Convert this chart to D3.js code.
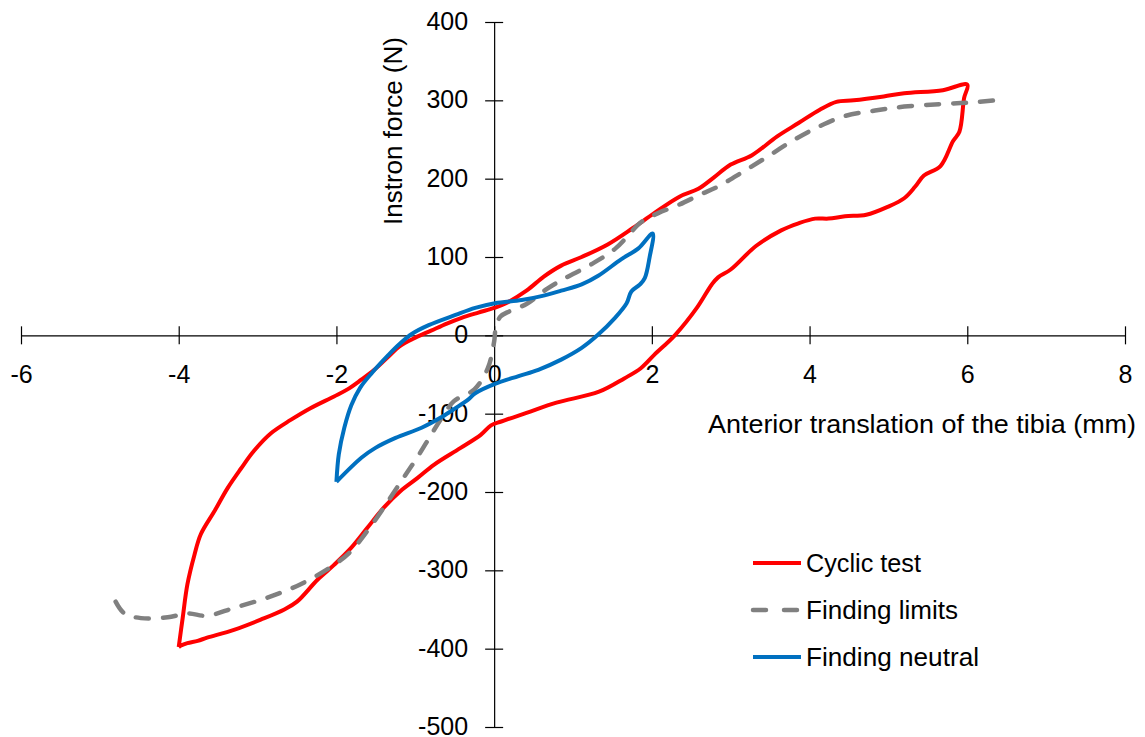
<!DOCTYPE html>
<html>
<head>
<meta charset="utf-8">
<script src="https://cdn.jsdelivr.net/npm/d3@7"></script>
<style>
  body { margin: 0; background: #fff; }
  text { font-family: "Liberation Sans", Arial, sans-serif; fill: #000; }
</style>
</head>
<body>
<script>
var W = 1145, H = 737;

var xTicks = [-6, -4, -2, 0, 2, 4, 6, 8];
var yTicks = [-500, -400, -300, -200, -100, 0, 100, 200, 300, 400];

// cyclic test loop (mm, N)
var cyclicTest = [
  [-4.0,-398],[-3.95,-361],[-3.89,-318],[-3.8,-280],[-3.72,-254],[-3.55,-225],[-3.38,-195],
  [-3.21,-170],[-3.05,-148],[-2.83,-125],[-2.58,-108],[-2.33,-93],[-2.03,-78],[-1.86,-69],
  [-1.69,-57],[-1.52,-44],[-1.35,-28],[-1.2,-14],[-1.0,-3],[-0.8,6],[-0.6,15],[-0.42,22],
  [-0.2,29],[0,35],[0.15,41],[0.41,57],[0.63,75],[0.85,89],[1.11,100],[1.44,116],[1.76,137],
  [2.03,156],[2.35,177],[2.59,187],[2.78,201],[3.0,218],[3.27,230],[3.59,254],[3.86,271],
  [4.13,288],[4.34,298],[4.56,300],[4.94,305],[5.2,309],[5.69,313],[6.0,320],
  [5.96,303],[5.9,260],[5.82,248],[5.66,216],[5.45,204],[5.34,190],[5.2,175],[4.99,164],
  [4.72,154],[4.45,152],[4.24,149],[4.07,149],[3.86,143],[3.64,134],[3.32,114],[3.0,84],
  [2.84,74],[2.76,65],[2.57,35],[2.3,1],[2.03,-25],[1.86,-42],[1.65,-55],[1.33,-72],
  [0.79,-86],[0.41,-99],[0.09,-110],[-0.04,-115],[-0.17,-127],[-0.43,-144],[-0.76,-165],
  [-0.97,-182],[-1.19,-199],[-1.4,-220],[-1.61,-246],[-1.82,-272],[-2.03,-293],[-2.24,-312],
  [-2.5,-340],[-2.66,-350],[-2.96,-363],[-3.3,-376],[-3.64,-386],[-3.76,-390],[-3.89,-393],
  [-3.97,-396],[-4.0,-398]
];

var findingLimits = [
  [-4.8,-340],[-4.69,-355],[-4.48,-361],[-4.14,-360],[-3.89,-355],[-3.64,-358],[-3.3,-348],
  [-2.88,-335],[-2.46,-318],[-2.03,-293],[-1.82,-276],[-1.61,-250],[-1.4,-220],[-1.19,-188],
  [-0.97,-155],[-0.8,-127],[-0.63,-100],[-0.51,-84],[-0.25,-69],[-0.08,-42],[0.0,-8],
  [0.02,9],[0.08,24],[0.2,31],[0.41,40],[0.68,60],[0.9,73],[1.22,90],[1.54,111],[1.87,145],
  [2.08,156],[2.35,167],[2.62,180],[2.84,190],[3.16,209],[3.48,229],[3.81,250],[4.13,267],
  [4.45,280],[4.83,287],[5.2,292],[5.64,295],[6.01,297],[6.36,300]
];

var findingNeutral = [
  [-2.0,-187],[-1.97,-152],[-1.9,-118],[-1.81,-89],[-1.7,-67],[-1.55,-48],[-1.34,-25],
  [-1.21,-12],[-1.04,2],[-0.83,13],[-0.49,26],[-0.24,35],[0.01,41],[0.35,45],[0.6,50],
  [0.85,57],[1.11,65],[1.32,76],[1.61,97],[1.83,111],[2.01,130],
  [1.97,99],[1.91,73],[1.85,65],[1.74,56],[1.68,41],[1.53,22],[1.32,1],[1.11,-16],
  [0.85,-31],[0.56,-44],[0.31,-52],[0.01,-62],[-0.24,-74],[-0.33,-82],[-0.49,-93],
  [-0.66,-104],[-0.92,-118],[-1.25,-131],[-1.51,-144],[-1.68,-156],[-2.0,-187]
];

var seriesNames = ['Cyclic test', 'Finding limits', 'Finding neutral'];
var seriesColors = ['#ff0000', '#808080', '#0070c0'];

var x = d3.scaleLinear().domain([-6, 8]).range([21, 1125]);
var y = d3.scaleLinear().domain([-500, 400]).range([727, 22]);

// plain hyphen for negatives, like the original
function fmt(d) { return String(d); }

var svg = d3.select('body').append('svg')
  .attr('width', W)
  .attr('height', H);

svg.append('rect').attr('width', W).attr('height', H).attr('fill', '#fff');

// x axis through y = 0
var xAxis = svg.append('g')
  .attr('transform', 'translate(0,' + y(0) + ')')
  .call(d3.axisBottom(x).tickValues(xTicks).tickFormat(fmt)
    .tickSizeOuter(0).tickSizeInner(9).tickPadding(21));

// y axis through x = 0
var yAxis = svg.append('g')
  .attr('transform', 'translate(' + x(0) + ',0)')
  .call(d3.axisLeft(y).tickValues(yTicks).tickFormat(fmt)
    .tickSizeOuter(0).tickSizeInner(9).tickPadding(17));

[xAxis, yAxis].forEach(function(g) {
  g.select('.domain').attr('stroke', '#000').attr('stroke-width', 1.2);
  g.selectAll('.tick line').attr('stroke', '#000').attr('stroke-width', 1.2);
  g.selectAll('.tick text').style('font-size', '25px').attr('fill', '#000');
});
xAxis.selectAll('.tick line').attr('y1', -9).attr('y2', 9);
yAxis.selectAll('.tick line').attr('x1', -9).attr('x2', 9);
yAxis.selectAll('.tick text').attr('dy', '0.3em');

var line = d3.line()
  .x(function(d) { return x(d[0]); })
  .y(function(d) { return y(d[1]); })
  .curve(d3.curveCatmullRom.alpha(0.5));

svg.append('path')
  .datum(cyclicTest)
  .attr('d', line)
  .attr('fill', 'none')
  .attr('stroke', seriesColors[0])
  .attr('stroke-width', 4)
  .attr('stroke-linejoin', 'round');

svg.append('path')
  .datum(findingLimits)
  .attr('d', line)
  .attr('fill', 'none')
  .attr('stroke', seriesColors[1])
  .attr('stroke-width', 4.5)
  .attr('stroke-linecap', 'round')
  .attr('stroke-dasharray', '13,14');

svg.append('path')
  .datum(findingNeutral)
  .attr('d', line)
  .attr('fill', 'none')
  .attr('stroke', seriesColors[2])
  .attr('stroke-width', 4)
  .attr('stroke-linejoin', 'round');

// axis titles
svg.append('text')
  .attr('x', 708)
  .attr('y', 433)
  .attr('textLength', 428)
  .attr('lengthAdjust', 'spacingAndGlyphs')
  .style('font-size', '25px')
  .text('Anterior translation of the tibia (mm)');

svg.append('text')
  .attr('transform', 'translate(402,225) rotate(-90)')
  .attr('textLength', 188)
  .attr('lengthAdjust', 'spacingAndGlyphs')
  .style('font-size', '25px')
  .text('Instron force (N)');

// legend
var legendY = [563, 610, 657];
var legendW = [115, 152, 173];
var legend = svg.append('g');
seriesNames.forEach(function(name, i) {
  legend.append('line')
    .attr('x1', 753).attr('x2', 801)
    .attr('y1', legendY[i]).attr('y2', legendY[i])
    .attr('stroke', seriesColors[i])
    .attr('stroke-width', i === 1 ? 4.5 : 4)
    .attr('stroke-linecap', i === 1 ? 'round' : 'butt')
    .attr('stroke-dasharray', i === 1 ? '13,18' : null);
  legend.append('text')
    .attr('x', 806)
    .attr('y', legendY[i] + 9)
    .attr('textLength', legendW[i])
    .attr('lengthAdjust', 'spacingAndGlyphs')
    .style('font-size', '25px')
    .text(name);
});
</script>
</body>
</html>
